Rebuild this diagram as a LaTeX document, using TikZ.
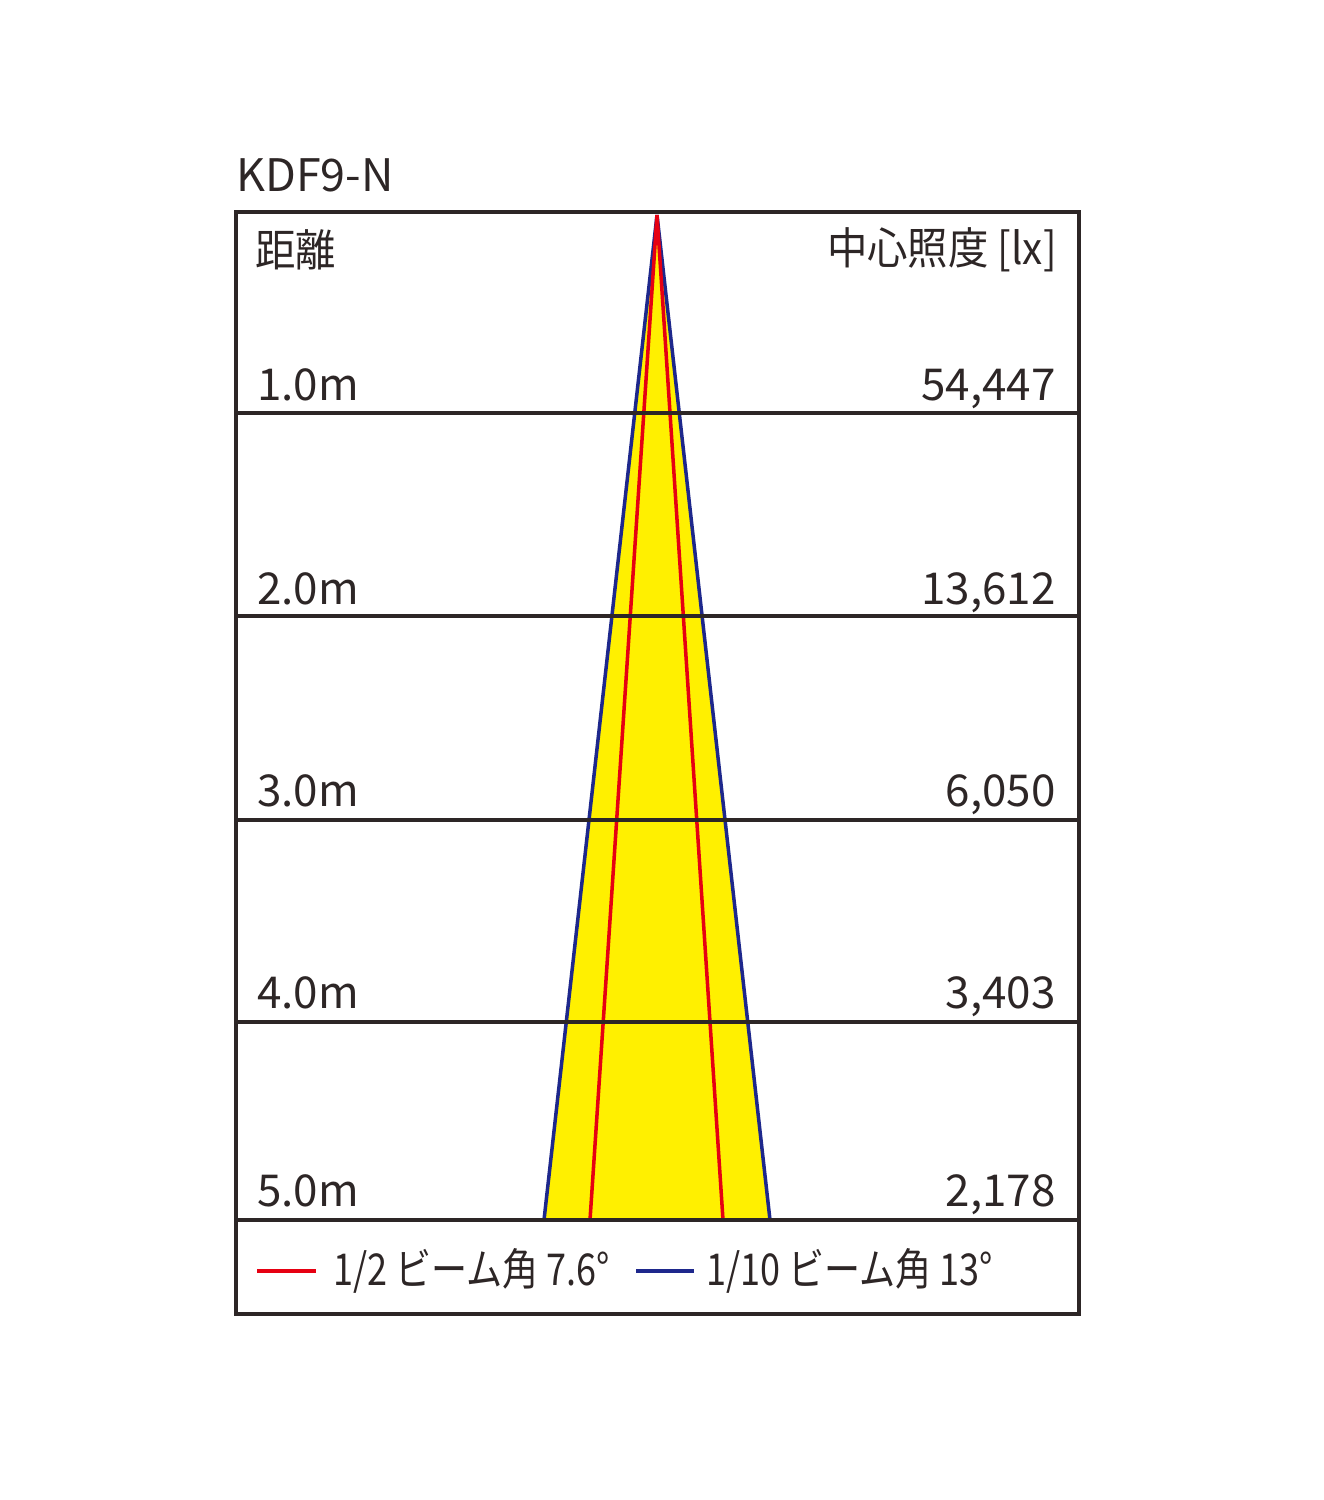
\documentclass[tikz,border=0pt]{standalone}
\usepackage{fontspec}
\setmainfont{Noto Sans CJK JP}
\newfontfamily\narrowjp[FakeStretch=0.92]{Noto Sans CJK JP}
\newfontfamily\condjp[FakeStretch=0.82]{Noto Sans CJK JP}
\usetikzlibrary{positioning}
\definecolor{framegray}{RGB}{45,38,38}
\definecolor{beamyellow}{RGB}{255,240,0}
\definecolor{halfred}{RGB}{230,0,18}
\definecolor{tenthblue}{RGB}{30,40,140}
\tikzset{
  grid/.style = {draw=framegray, line width=2.3pt},
  lbl/.style = {font=\fontsize{25}{25}\selectfont, text=framegray, inner sep=0pt},
  dist/.style = {lbl, anchor=base west},
  lux/.style = {lbl, anchor=base east},
  legend/.style = {lbl, anchor=west, font=\fontsize{25}{25}\selectfont\condjp},
  beam/.style = {line width=2pt}
}
\begin{document}
\begin{tikzpicture}[x=0.02cm, y=-0.02cm]
\useasboundingbox (0,0) rectangle (1323,1500);
% beam cone
\coordinate (apex) at (657,215);
\coordinate (bl) at (544,1220);
\coordinate (br) at (770,1220);
\coordinate (rl) at (590,1220);
\coordinate (rr) at (723,1220);
\fill[beamyellow] (apex) -- (bl) -- (br) -- cycle;
\draw[beam, tenthblue] (apex) -- (bl);
\draw[beam, tenthblue] (apex) -- (br);
\draw[beam, halfred] (apex) -- (rl);
\draw[beam, halfred] (apex) -- (rr);
% frame and rows
\draw[grid] (236,212) rectangle (1079,1314);
\foreach \y in {413,616,820,1022,1220}
  \draw[grid] (236,\y) -- (1079,\y);
% headings
\node[lbl, anchor=base west, font=\fontsize{25.5}{25}\selectfont] (title) at (236,192) {KDF9-N};
\node[lbl, anchor=west, font=\fontsize{25}{25}\selectfont\narrowjp] (dhead) at (255,250) {距離};
\node[lbl, anchor=east, font=\fontsize{25}{25}\selectfont\narrowjp] (lhead) at (1057,250) {中心照度 [lx]};
% distances and values
\foreach \y/\d/\v [count=\i] in {400/1.0m/54{,}447, 604/2.0m/13{,}612, 806/3.0m/6{,}050, 1008/4.0m/3{,}403, 1206/5.0m/2{,}178}{
  \node[dist] (d\i) at (257,\y) {\d};
  \node[lux] (v\i) at (1056,\y) {\v};
}
% legend
\coordinate (rs) at (257,1271);
\coordinate (re) at (316,1271);
\coordinate (bs) at (636,1271);
\coordinate (be) at (694,1271);
\draw[beam, halfred] (rs) -- (re);
\draw[beam, tenthblue] (bs) -- (be);
\node[legend] (half) at (333,1271) {1/2 ビーム角 7.6°};
\node[legend] (tenth) at (706,1271) {1/10 ビーム角 13°};
\end{tikzpicture}
\end{document}
